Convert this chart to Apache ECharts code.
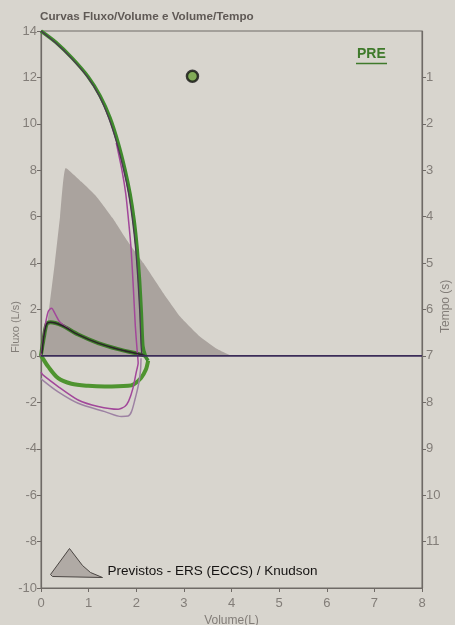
<!DOCTYPE html>
<html>
<head>
<meta charset="utf-8">
<script src="https://cdn.jsdelivr.net/npm/echarts@6/dist/echarts.min.js"></script>
<style>
html,body{margin:0;padding:0;background:#d8d5ce;}
#c{width:455px;height:625px;}
</style>
</head>
<body>
<div id="c"></div>
<script>
// ---- data (volume L, flow L/s) ----
const volumeTicks = [0,1,2,3,4,5,6,7,8];
const flowTicks = [-10,-8,-6,-4,-2,0,2,4,6,8,10,12,14];
const timeTicks = [1,2,3,4,5,6,7,8,9,10,11];

const predicted = [[0.05,0],[0.17,2],[0.29,4],[0.40,6],[0.52,8.1],[0.85,7.5],[1.17,6.85],[1.5,5.95],[1.8,5.0],[2.15,4.0],[2.57,2.7],[2.92,1.7],[3.34,0.83],[3.7,0.3],[4.0,0]];

const greenExp = [[0,14],[0.315,13.51],[0.65,12.84],[0.99,12.03],[1.24,11.21],[1.45,10.26],[1.62,9.18],[1.765,8.02],[1.87,6.98],[1.954,5.86],[2.017,4.66],[2.069,3.28],[2.107,1.85],[2.139,0.43],[2.2,-0.05],[2.25,-0.2]];
const greenInsp = [[2.25,-0.2],[2.2,-0.6],[2.1,-0.95],[1.95,-1.22],[1.83,-1.29],[1.34,-1.32],[0.99,-1.29],[0.64,-1.2],[0.36,-0.96],[0.15,-0.46],[0.03,-0.08],[0,0]];
const greenTidal = [[0,0],[0.06,0.8],[0.12,1.38],[0.2,1.45],[0.43,1.32],[0.78,0.92],[1.2,0.55],[1.62,0.29],[2.04,0.09],[2.2,0.0]];

const darkExp = [[0,14],[0.3,13.5],[0.63,12.84],[0.97,12.03],[1.22,11.21],[1.42,10.26],[1.59,9.18],[1.735,8.02],[1.84,6.98],[1.92,5.86],[1.985,4.66],[2.035,3.28],[2.075,1.85],[2.1,0.5],[2.12,0]];
const blackTidal = [[0.02,0.1],[0.06,0.85],[0.12,1.38],[0.2,1.45],[0.43,1.32],[0.78,0.92],[1.2,0.55],[1.62,0.29],[2.04,0.09],[2.18,0.02]];

const magentaTidal = [[0,0],[0.08,1.2],[0.15,1.9],[0.22,2.05],[0.3,1.8],[0.4,1.45],[0.6,1.15]];
const magentaLoop = [[1.58,9.18],[1.7,8.0],[1.78,6.98],[1.84,5.8],[1.89,4.66],[1.94,2.9],[1.98,1.3],[2.02,0.2],[2.04,-0.3],[2.0,-0.7],[1.93,-1.4],[1.84,-1.95],[1.76,-2.18],[1.62,-2.3],[1.2,-2.18],[0.78,-1.9],[0.36,-1.32],[0.04,-0.82],[0,-0.7]];
const violetLoop = [[2.1,-0.1],[2.09,-0.6],[2.05,-1.2],[1.97,-1.9],[1.9,-2.4],[1.83,-2.59],[1.69,-2.61],[1.34,-2.4],[0.78,-2.04],[0.36,-1.55],[0.02,-1.02],[0,-0.95]];

const zeroLine = [[0,0],[8,0]];
const pefPoint = [[3.18,12.05]];

const predictedName = 'Previstos - ERS (ECCS) / Knudson';

const FONT = "'Liberation Sans', Arial, sans-serif";
const LBL = '#827d78';
const AX = '#6f6a66';

const chart = echarts.init(document.getElementById('c'), null, {renderer:'canvas'});
const lineS = (data, color, width, z, smooth) => ({
  type:'line', data, symbol:'none', smooth: smooth === undefined ? 0.3 : smooth, z,
  lineStyle:{color, width}, itemStyle:{color}, silent:true, animation:false
});

chart.setOption({
  animation:false,
  backgroundColor:'#d8d5ce',
  title:{text:'Curvas Fluxo/Volume e Volume/Tempo', left:35, top:6,
    textStyle:{fontFamily:FONT, fontSize:11.7, fontWeight:'bold', color:'#5f5955'}},
  grid:{left:41, right:33, top:31, bottom:37, show:true, borderColor:AX, borderWidth:1,
    backgroundColor:'transparent', containLabel:false, outerBoundsMode:'none'},
  legend:{
    left:45, top:543, itemWidth:52, itemHeight:29, itemGap:6,
    data:[{name:predictedName, icon:'path://M0,26 L19,0 L32,17 L40,24 L52,29 L2,28 Z',
      itemStyle:{color:'#b0aaa5', borderColor:'#4a4542', borderWidth:1}}],
    formatter: n => '{t|' + n + '}',
    textStyle:{fontFamily:FONT, fontSize:13.5, color:'#151312',
      rich:{t:{fontFamily:FONT, fontSize:13.5, color:'#151312', padding:[16,0,0,0]}}}
  },
  xAxis:{type:'value', min:0, max:8, interval:1, name:'Volume(L)', nameLocation:'middle', nameGap:23,
    nameTextStyle:{fontFamily:FONT, fontSize:12, color:LBL},
    axisLine:{onZero:false, lineStyle:{color:AX, width:1.2}},
    axisTick:{show:true, length:4, lineStyle:{color:AX}},
    axisLabel:{fontFamily:FONT, fontSize:13, color:LBL, margin:9,
      formatter:v=>volumeTicks.includes(v)?String(v):''},
    splitLine:{show:false}},
  yAxis:[
    {type:'value', min:-10, max:14, interval:2, position:'left',
     axisLine:{show:true, onZero:false, lineStyle:{color:AX, width:1.2}},
     axisTick:{show:true, length:4, lineStyle:{color:AX}},
     axisLabel:{fontFamily:FONT, fontSize:13, color:LBL, margin:4,
       formatter:v=>flowTicks.includes(v)?String(v):''},
     splitLine:{show:false}},
    {type:'value', min:0, max:12, interval:1, position:'right', inverse:true,
     axisLine:{show:true, onZero:false, lineStyle:{color:AX, width:1.2}},
     axisTick:{show:true, length:4, lineStyle:{color:AX}},
     axisLabel:{fontFamily:FONT, fontSize:13, color:LBL, margin:4, showMinLabel:false, showMaxLabel:false,
       formatter:v=>timeTicks.includes(v)?String(v):''},
     splitLine:{show:false}}
  ],
  graphic:[
    {type:'text', x:10, y:353, rotation:Math.PI/2,
     style:{text:'Fluxo (L/s)', font:"11px "+FONT, fill:LBL}, silent:true},
    {type:'text', x:440, y:333, rotation:Math.PI/2,
     style:{text:'Tempo (s)', font:"12px "+FONT, fill:LBL}, silent:true},
    {type:'text', x:357, y:47,
     style:{text:'PRE', font:"bold 14px "+FONT, fill:'#3f7a2b'}, silent:true},
    {type:'line', shape:{x1:356, y1:63.5, x2:387, y2:63.5}, style:{stroke:'#3f7a2b', lineWidth:1.5}, silent:true}
  ],
  series:[
    {type:'line', name:predictedName, data:predicted, symbol:'none', smooth:0.15, z:1,
     lineStyle:{width:0}, itemStyle:{color:'#aaa39e'},
     areaStyle:{color:'#aaa39e', opacity:1}, silent:true},
    lineS(greenInsp, '#4f9430', 4, 3),
    lineS(greenTidal, '#3f7c2a', 4, 3),
    lineS(greenExp, '#3f8a2c', 3.5, 3, 0.2),
    lineS(violetLoop, '#9d82a3', 1.5, 4),
    lineS(magentaLoop, '#a2479a', 1.5, 5, 0.2),
    lineS(magentaTidal, '#a2479a', 1.5, 5),
    lineS(darkExp, '#4b3752', 1.3, 6, 0.2),
    lineS(blackTidal, '#2a2428', 1.5, 6),
    lineS(zeroLine, '#3b2c58', 1.6, 7, false),
    {type:'scatter', data:pefPoint, symbol:'circle', symbolSize:11, z:8,
     itemStyle:{color:'#6da13a', borderColor:'#111', borderWidth:2.5}, silent:true}
  ]
});
</script>
</body>
</html>
